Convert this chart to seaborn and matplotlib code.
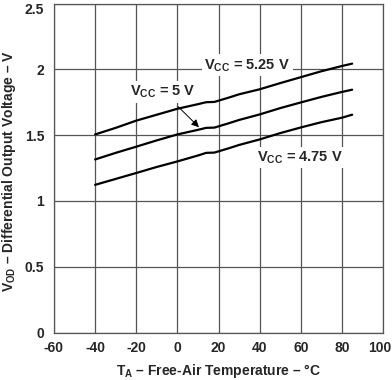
import pandas as pd
import matplotlib
matplotlib.use("Agg")
import matplotlib.pyplot as plt
import matplotlib.transforms as mtransforms
import seaborn as sns

# Temperatures (deg C) and differential output voltage for each supply
temps = [-40, -30, -20, -10, 0, 10, 14, 18, 25, 30, 40, 50, 60, 70, 80, 85]
vod_525 = [1.505, 1.555, 1.61, 1.655, 1.70, 1.735, 1.75, 1.752, 1.785, 1.81,
           1.848, 1.895, 1.94, 1.985, 2.025, 2.043]
vod_500 = [1.315, 1.365, 1.412, 1.46, 1.505, 1.54, 1.555, 1.557, 1.59, 1.615,
           1.657, 1.705, 1.748, 1.79, 1.828, 1.845]
vod_475 = [1.122, 1.167, 1.212, 1.258, 1.30, 1.345, 1.365, 1.367, 1.40, 1.425,
           1.467, 1.515, 1.558, 1.598, 1.632, 1.655]
supplies = ["5.25 V", "5 V", "4.75 V"]

x_ticks = [-60, -40, -20, 0, 20, 40, 60, 80, 100]
y_ticks = [0, 0.5, 1, 1.5, 2, 2.5]
y_tick_labels = ["0", "0.5", "1", "1.5", "2", "2.5"]

rows = []
for name, vals in zip(supplies, [vod_525, vod_500, vod_475]):
    for t, v in zip(temps, vals):
        rows.append({"temp": t, "vod": v, "supply": name})
df = pd.DataFrame(rows)

sns.set_style("white")
plt.rcParams["font.family"] = ["Liberation Sans", "DejaVu Sans"]
plt.rcParams["font.weight"] = "bold"
plt.rcParams["axes.unicode_minus"] = False
plt.rcParams["mathtext.fontset"] = "custom"
plt.rcParams["mathtext.rm"] = "Liberation Sans:bold"
plt.rcParams["mathtext.it"] = "Liberation Sans:bold"
plt.rcParams["mathtext.bf"] = "Liberation Sans:bold"

fig = plt.figure(figsize=(3.92, 3.80), dpi=100)
ax = fig.add_axes([54 / 392, 1 - 332.5 / 380, 329 / 392, 329 / 380])

sns.lineplot(data=df, x="temp", y="vod", hue="supply", palette=["black"] * 3,
             linewidth=1.6, legend=False, ax=ax, zorder=3)

ax.set_xlim(-60, 100)
ax.set_ylim(0, 2.5)
ax.set_xticks(x_ticks)
ax.set_yticks(y_ticks)
ax.set_yticklabels(y_tick_labels)
ax.tick_params(axis="x", length=0, labelsize=10, pad=6)
ax.tick_params(axis="y", length=0, labelsize=10, pad=7)
for lab in ax.get_xticklabels() + ax.get_yticklabels():
    lab.set_fontweight("bold")
# edge labels sit just inside the figure, as in the original
ax.get_yticklabels()[-1].set_verticalalignment("top")
last_x = ax.get_xticklabels()[-1]
last_x.set_horizontalalignment("right")
last_x.set_transform(last_x.get_transform() +
                     mtransforms.ScaledTranslation(8 / 100, 0, fig.dpi_scale_trans))
ax.grid(True, color="#555555", linewidth=0.9)
for sp in ax.spines.values():
    sp.set_color("#555555")
    sp.set_linewidth(0.9)

ax.set_xlabel(r"$T_A$ – Free-Air Temperature – °C", fontsize=10,
              fontweight="bold", labelpad=5)
ax.set_ylabel(r"$V_{OD}$ – Differential Output Voltage – V", fontsize=10,
              fontweight="bold")
ax.yaxis.set_label_coords(-0.11, 0.49)

box = dict(facecolor="white", edgecolor="none", pad=2)
ax.text(34, 2.03, r"$V_{CC}$ = 5.25 V", fontsize=10.5, fontweight="bold",
        ha="center", va="center", bbox=box, zorder=4)
ax.text(59.5, 1.33, r"$V_{CC}$ = 4.75 V", fontsize=10.5, fontweight="bold",
        ha="center", va="center", bbox=box, zorder=4)
ax.annotate(r"$V_{CC}$ = 5 V", xy=(10.5, 1.56), xytext=(-7, 1.83),
            fontsize=10.5, fontweight="bold", ha="center", va="center",
            bbox=box, zorder=4,
            arrowprops=dict(arrowstyle="-|>", color="black", lw=0.7,
                            mutation_scale=11, shrinkA=4, shrinkB=0))

fig.savefig("out.png", dpi=100)
plt.close(fig)
